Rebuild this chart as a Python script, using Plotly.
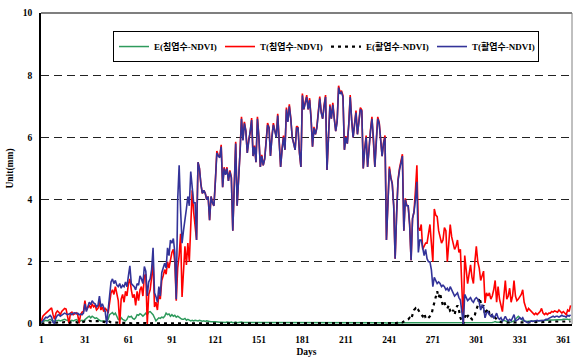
import plotly.graph_objects as go

days = list(range(1, 367))
x_ticks = [1, 31, 61, 91, 121, 151, 181, 211, 241, 271, 301, 331, 361]

t_broad = [
    0.05, 0.12, 0.18, 0.22, 0.20, 0.25, 0.28, 0.22, 0.05, 0.02, 0.20, 0.28, 0.30, 0.25, 0.30, 0.32, 0.35, 0.33, 0.30, 0.32, 0.34, 0.30, 0.35, 0.36, 0.33, 0.35, 0.30, 0.32, 0.30, 0.35,
    0.65, 0.40, 0.60, 0.70, 0.62, 0.75, 0.68, 0.65, 0.55, 0.60, 0.90, 0.55, 0.65, 0.50, 0.40, 0.00, 0.55, 0.90, 1.35, 1.45, 1.30, 1.40, 1.25, 1.20, 1.30, 1.15, 1.25, 1.20, 1.35, 1.20,
    1.55, 1.87, 1.30, 1.25, 1.20, 1.10, 1.30, 1.25, 1.55, 1.45, 1.30, 1.85, 1.70, 0.90, 1.35, 1.45, 1.75, 2.45, 1.00, 0.88, 0.70, 1.20, 0.90, 1.65, 1.80, 1.95, 1.80, 2.45, 2.20, 2.70,
    2.60, 2.75, 2.30, 0.80, 4.00, 5.10, 3.67, 2.60, 3.00, 3.30, 3.70, 4.10, 3.80, 4.90, 4.50, 3.90, 3.90, 2.70, 5.20, 5.00, 4.50, 4.20, 4.30, 4.20, 4.00, 4.10, 3.34, 4.10, 3.90, 3.80,
    4.60, 5.50, 5.40, 5.35, 5.70, 4.40, 5.00, 4.80, 5.00, 4.60, 4.90, 4.70, 3.00, 4.50, 5.80, 3.80, 4.50, 5.50, 6.60, 5.90, 6.45, 6.20, 5.50, 5.90, 6.10, 6.56, 5.40, 5.70, 5.20, 6.60,
    6.00, 5.05, 5.40, 5.10, 5.30, 5.90, 6.40, 6.30, 5.40, 6.00, 6.40, 6.20, 6.00, 6.70, 5.80, 5.05, 5.60, 6.00, 5.60, 6.90, 6.50, 7.00, 6.60, 6.00, 5.80, 5.60, 6.30, 6.30, 5.50, 5.05,
    7.35, 6.90, 7.10, 7.30, 6.90, 7.20, 6.60, 5.70, 6.30, 6.10, 6.30, 6.70, 7.25, 6.80, 6.60, 7.00, 7.30, 4.95, 6.20, 7.00, 6.60, 7.05, 6.60, 6.20, 6.50, 7.60, 7.40, 7.45, 7.30, 5.60,
    6.00, 5.80, 6.40, 7.30, 6.55, 6.00, 6.40, 6.80, 6.10, 6.50, 6.90, 6.85, 5.00, 5.60, 6.00, 5.05, 5.80, 6.20, 6.60, 6.00, 5.05, 5.90, 6.60, 6.45, 6.00, 5.40, 5.80, 6.00, 2.70, 4.00,
    5.00, 4.70, 4.50, 3.80, 2.10, 3.50, 4.60, 4.95, 5.20, 5.40, 3.00, 4.00, 3.80, 3.80, 3.20, 2.05, 3.40, 3.60, 4.00, 4.57, 2.30, 2.70, 2.70, 2.40, 2.20, 2.40, 2.10, 2.00, 2.00, 1.74,
    1.20, 1.50, 1.40, 1.30, 1.35, 1.30, 1.20, 1.25, 1.20, 1.10, 1.15, 1.05, 1.20, 1.10, 1.00, 0.90, 0.95, 1.00, 0.85, 0.77, 0.40, 0.00, 0.95, 0.85, 0.75, 0.80, 0.85, 0.75, 0.70, 0.80,
    0.85, 0.80, 0.70, 0.45, 0.60, 0.55, 0.20, 0.35, 0.40, 0.30, 0.25, 0.30, 0.20, 0.25, 0.35, 0.20, 0.15, 0.20, 0.10, 0.15, 0.25, 0.15, 0.10, 0.15, 0.10, 0.20, 0.30, 0.10, 0.12, 0.15,
    0.20, 0.15, 0.20, 0.10, 0.08, 0.05, 0.05, 0.08, 0.10, 0.08, 0.10, 0.10, 0.12, 0.10, 0.10, 0.12, 0.10, 0.12, 0.15, 0.15, 0.18, 0.20, 0.22, 0.25, 0.22, 0.25, 0.25, 0.22, 0.25, 0.28, 0.25, 0.25, 0.22, 0.28, 0.25, 0.30,
]

t_conifer = [
    0.10, 0.25, 0.30, 0.35, 0.40, 0.45, 0.50, 0.52, 0.30, 0.15, 0.35, 0.42, 0.38, 0.30, 0.40, 0.45, 0.50, 0.48, 0.20, 0.02, 0.35, 0.38, 0.30, 0.33, 0.36, 0.30, 0.02, 0.30, 0.38, 0.40,
    0.75, 0.45, 0.55, 0.60, 0.50, 0.65, 0.55, 0.60, 0.45, 0.50, 0.70, 0.45, 0.55, 0.40, 0.50, 0.45, 0.35, 0.70, 1.00, 1.10, 0.95, 1.20, 0.90, 0.75, 0.00, 0.80, 0.95, 0.70, 1.05, 0.90,
    1.30, 1.45, 1.10, 0.85, 0.95, 0.60, 1.05, 0.75, 1.10, 1.20, 0.90, 1.55, 1.60, 0.00, 0.95, 1.10, 1.50, 2.00, 0.55, 0.70, 0.45, 0.95, 0.80, 1.40, 1.55, 1.75, 1.60, 2.00, 1.80, 2.10,
    2.30, 2.40, 2.00, 0.75, 1.80, 2.20, 2.90, 0.87, 1.70, 2.50, 1.90, 2.60, 2.00, 3.10, 4.30, 3.60, 3.20, 2.70, 5.20, 5.00, 4.50, 4.20, 4.30, 4.20, 4.00, 4.10, 3.34, 4.10, 3.90, 3.80,
    4.62, 5.56, 5.42, 5.37, 5.76, 4.40, 5.04, 4.82, 5.04, 4.60, 4.94, 4.72, 3.00, 4.52, 5.86, 3.80, 4.52, 5.54, 6.66, 5.92, 6.50, 6.22, 5.50, 5.94, 6.14, 6.62, 5.40, 5.74, 5.20, 6.66,
    6.02, 5.05, 5.44, 5.10, 5.32, 5.94, 6.46, 6.32, 5.40, 6.04, 6.46, 6.22, 6.02, 6.76, 5.82, 5.05, 5.64, 6.06, 5.60, 6.96, 6.52, 7.06, 6.62, 6.00, 5.82, 5.60, 6.36, 6.32, 5.50, 5.05,
    7.41, 6.90, 7.14, 7.36, 6.90, 7.26, 6.62, 5.70, 6.34, 6.10, 6.34, 6.74, 7.31, 6.82, 6.60, 7.04, 7.36, 4.95, 6.24, 7.06, 6.60, 7.11, 6.62, 6.20, 6.54, 7.66, 7.44, 7.50, 7.34, 5.60,
    6.04, 5.80, 6.44, 7.36, 6.57, 6.00, 6.44, 6.86, 6.10, 6.54, 6.96, 6.88, 5.00, 5.64, 6.06, 5.05, 5.84, 6.24, 6.66, 6.00, 5.05, 5.94, 6.66, 6.48, 6.02, 5.40, 5.84, 6.06, 2.70, 4.02,
    5.06, 4.72, 4.52, 3.80, 2.10, 3.54, 4.64, 5.00, 5.26, 5.46, 3.00, 4.04, 3.82, 3.80, 3.20, 2.05, 3.40, 3.60, 4.30, 5.10, 3.10, 3.00, 3.20, 2.40, 2.50, 2.60, 2.60, 2.90, 3.20, 2.60,
    2.00, 3.70, 3.50, 3.45, 3.00, 2.80, 2.60, 2.70, 3.10, 3.00, 2.00, 2.60, 3.20, 2.80, 2.60, 2.40, 2.50, 2.70, 2.30, 2.40, 1.20, 0.00, 2.20, 1.80, 1.30, 1.60, 1.90, 1.50, 1.30, 2.00,
    2.50, 2.00, 1.80, 1.40, 1.60, 1.70, 0.68, 1.00, 0.90, 1.00, 0.80, 0.90, 1.10, 1.40, 0.70, 1.20, 0.80, 0.60, 0.40, 0.90, 1.40, 0.80, 0.90, 1.15, 0.70, 0.90, 1.40, 0.90, 0.75, 0.80,
    0.87, 0.95, 1.10, 0.70, 0.55, 0.40, 0.50, 0.45, 0.40, 0.35, 0.30, 0.35, 0.30, 0.35, 0.40, 0.50, 0.35, 0.30, 0.35, 0.30, 0.35, 0.35, 0.40, 0.38, 0.42, 0.40, 0.38, 0.45, 0.40, 0.35, 0.40, 0.35, 0.30, 0.45, 0.40, 0.60,
]

e_conifer = [
    0.05, 0.08, 0.10, 0.12, 0.10, 0.12, 0.15, 0.12, 0.10, 0.08, 0.10, 0.12, 0.12, 0.10, 0.12, 0.14, 0.15, 0.13, 0.12, 0.08, 0.10, 0.12, 0.10, 0.12, 0.14, 0.12, 0.08, 0.10, 0.12, 0.10,
    0.15, 0.20, 0.22, 0.25, 0.20, 0.25, 0.22, 0.18, 0.20, 0.15, 0.12, 0.10, 0.10, 0.12, 0.10, 0.08, 0.15, 0.30, 0.35, 0.37, 0.30, 0.35, 0.25, 0.15, 0.13, 0.20, 0.15, 0.12, 0.10, 0.15,
    0.25, 0.22, 0.25, 0.18, 0.15, 0.20, 0.30, 0.28, 0.33, 0.30, 0.25, 0.30, 0.35, 0.30, 0.38, 0.40, 0.35, 0.30, 0.20, 0.10, 0.15, 0.20, 0.18, 0.22, 0.20, 0.25, 0.35, 0.30, 0.32, 0.25,
    0.30, 0.25, 0.28, 0.22, 0.25, 0.20, 0.18, 0.15, 0.15, 0.18, 0.12, 0.15, 0.12, 0.10, 0.12, 0.10, 0.12, 0.10, 0.10, 0.12, 0.10, 0.09, 0.10, 0.08, 0.10, 0.08, 0.08, 0.07, 0.08, 0.07,
    0.07, 0.06, 0.07, 0.06, 0.06, 0.05, 0.06, 0.05, 0.06, 0.05, 0.05, 0.06, 0.04, 0.05, 0.06, 0.04, 0.05, 0.05, 0.06, 0.05, 0.05, 0.06, 0.05, 0.05, 0.05, 0.06, 0.05, 0.05, 0.04, 0.05,
    0.05, 0.04, 0.05, 0.05, 0.04, 0.05, 0.05, 0.05, 0.04, 0.05, 0.05, 0.05, 0.04, 0.05, 0.05, 0.04, 0.05, 0.05, 0.04, 0.05, 0.05, 0.05, 0.05, 0.04, 0.05, 0.04, 0.05, 0.05, 0.04, 0.04,
    0.05, 0.05, 0.05, 0.05, 0.04, 0.05, 0.05, 0.04, 0.05, 0.05, 0.05, 0.05, 0.05, 0.04, 0.05, 0.05, 0.05, 0.04, 0.05, 0.05, 0.05, 0.05, 0.04, 0.05, 0.05, 0.05, 0.05, 0.05, 0.05, 0.04,
    0.05, 0.04, 0.05, 0.05, 0.05, 0.04, 0.05, 0.05, 0.05, 0.05, 0.05, 0.05, 0.04, 0.04, 0.05, 0.04, 0.04, 0.05, 0.05, 0.04, 0.04, 0.04, 0.05, 0.04, 0.04, 0.04, 0.04, 0.04, 0.03, 0.04,
    0.04, 0.04, 0.04, 0.03, 0.03, 0.03, 0.04, 0.04, 0.04, 0.04, 0.03, 0.03, 0.03, 0.03, 0.03, 0.03, 0.03, 0.03, 0.03, 0.03, 0.03, 0.03, 0.03, 0.03, 0.03, 0.03, 0.03, 0.03, 0.03, 0.03,
    0.03, 0.03, 0.03, 0.03, 0.03, 0.03, 0.03, 0.03, 0.03, 0.03, 0.03, 0.03, 0.03, 0.03, 0.03, 0.03, 0.03, 0.03, 0.03, 0.03, 0.03, 0.03, 0.03, 0.03, 0.03, 0.03, 0.03, 0.03, 0.03, 0.03,
    0.03, 0.03, 0.03, 0.03, 0.03, 0.03, 0.03, 0.03, 0.03, 0.04, 0.04, 0.05, 0.06, 0.08, 0.06, 0.05, 0.06, 0.08, 0.10, 0.12, 0.10, 0.08, 0.06, 0.05, 0.06, 0.08, 0.10, 0.15, 0.22, 0.25,
    0.20, 0.15, 0.12, 0.10, 0.08, 0.08, 0.09, 0.10, 0.09, 0.10, 0.10, 0.10, 0.11, 0.10, 0.11, 0.12, 0.11, 0.12, 0.12, 0.12, 0.13, 0.12, 0.13, 0.13, 0.14, 0.13, 0.14, 0.14, 0.13, 0.14, 0.15, 0.14, 0.15, 0.15, 0.14, 0.16,
]

e_broad = [
    0.01, 0.02, 0.03, 0.03, 0.04, 0.04, 0.05, 0.04, 0.03, 0.02, 0.04, 0.05, 0.05, 0.04, 0.05, 0.05, 0.06, 0.05, 0.04, 0.02, 0.05, 0.06, 0.05, 0.06, 0.06, 0.05, 0.03, 0.05, 0.06, 0.06,
    0.08, 0.06, 0.08, 0.10, 0.09, 0.10, 0.10, 0.09, 0.08, 0.09, 0.10, 0.08, 0.08, 0.07, 0.06, 0.02, 0.06, 0.08, 0.05, 0.05, 0.04, 0.05, 0.04, 0.04, 0.03, 0.04, 0.04, 0.03, 0.04, 0.03,
    0.03, 0.03, 0.02, 0.03, 0.02, 0.03, 0.03, 0.02, 0.03, 0.03, 0.02, 0.03, 0.03, 0.01, 0.02, 0.03, 0.03, 0.03, 0.02, 0.02, 0.02, 0.03, 0.02, 0.03, 0.03, 0.03, 0.03, 0.03, 0.03, 0.03,
    0.03, 0.03, 0.03, 0.01, 0.03, 0.03, 0.03, 0.02, 0.03, 0.03, 0.03, 0.03, 0.03, 0.03, 0.03, 0.03, 0.03, 0.02, 0.03, 0.03, 0.03, 0.03, 0.03, 0.03, 0.03, 0.03, 0.02, 0.03, 0.03, 0.03,
    0.03, 0.03, 0.03, 0.03, 0.03, 0.02, 0.03, 0.03, 0.03, 0.03, 0.03, 0.03, 0.02, 0.03, 0.03, 0.02, 0.03, 0.03, 0.03, 0.03, 0.03, 0.03, 0.03, 0.03, 0.03, 0.03, 0.03, 0.03, 0.03, 0.03,
    0.03, 0.03, 0.03, 0.03, 0.03, 0.03, 0.03, 0.03, 0.03, 0.03, 0.03, 0.03, 0.03, 0.03, 0.03, 0.03, 0.03, 0.03, 0.03, 0.03, 0.03, 0.03, 0.03, 0.03, 0.03, 0.03, 0.03, 0.03, 0.03, 0.03,
    0.03, 0.03, 0.03, 0.03, 0.03, 0.03, 0.03, 0.03, 0.03, 0.03, 0.03, 0.03, 0.03, 0.03, 0.03, 0.03, 0.03, 0.02, 0.03, 0.03, 0.03, 0.03, 0.03, 0.03, 0.03, 0.03, 0.03, 0.03, 0.03, 0.02,
    0.03, 0.03, 0.03, 0.03, 0.03, 0.03, 0.03, 0.03, 0.03, 0.03, 0.03, 0.03, 0.02, 0.03, 0.03, 0.02, 0.03, 0.03, 0.03, 0.03, 0.02, 0.03, 0.03, 0.03, 0.03, 0.03, 0.03, 0.03, 0.02, 0.02,
    0.02, 0.03, 0.02, 0.03, 0.02, 0.03, 0.05, 0.04, 0.06, 0.05, 0.08, 0.10, 0.12, 0.15, 0.20, 0.15, 0.30, 0.45, 0.50, 0.40, 0.45, 0.35, 0.30, 0.25, 0.35, 0.20, 0.15, 0.20, 0.25, 0.30,
    0.50, 0.70, 0.90, 1.05, 0.85, 1.00, 0.75, 0.60, 0.70, 0.55, 0.50, 0.60, 0.40, 0.35, 0.45, 0.30, 0.50, 0.60, 0.45, 0.20, 0.10, 0.00, 0.20, 0.35, 0.25, 0.30, 0.20, 0.15, 0.25, 0.30,
    0.45, 0.60, 0.85, 0.70, 0.55, 0.60, 0.30, 0.40, 0.50, 0.35, 0.40, 0.25, 0.30, 0.20, 0.15, 0.10, 0.08, 0.06, 0.05, 0.05, 0.05, 0.04, 0.05, 0.06, 0.05, 0.06, 0.05, 0.04, 0.05, 0.06,
    0.05, 0.06, 0.05, 0.06, 0.07, 0.06, 0.05, 0.06, 0.07, 0.06, 0.07, 0.06, 0.07, 0.08, 0.07, 0.06, 0.07, 0.08, 0.07, 0.08, 0.07, 0.08, 0.07, 0.08, 0.08, 0.07, 0.08, 0.08, 0.07, 0.08, 0.08, 0.07, 0.08, 0.08, 0.07, 0.08,
]

FONT = "Liberation Serif, Noto Sans CJK KR, serif"

fig = go.Figure()
fig.add_trace(go.Scatter(x=days, y=e_conifer, mode="lines", name="E(침엽수-NDVI)",
                         line=dict(color="#2E9A5C", width=1.5)))
fig.add_trace(go.Scatter(x=days, y=t_conifer, mode="lines", name="T(침엽수-NDVI)",
                         line=dict(color="#FF0000", width=1.6)))
fig.add_trace(go.Scatter(x=days, y=e_broad, mode="lines", name="E(활엽수-NDVI)",
                         line=dict(color="#000000", width=2.2, dash="3px,4px")))
fig.add_trace(go.Scatter(x=days, y=t_broad, mode="lines", name="T(활엽수-NDVI)",
                         line=dict(color="#333399", width=1.6)))

fig.update_layout(
    width=573, height=360,
    margin=dict(l=41, r=1, t=13, b=36),
    paper_bgcolor="white", plot_bgcolor="white",
    showlegend=True,
    legend=dict(orientation="h", x=0.1356, y=0.942, xanchor="left", yanchor="top",
                bordercolor="black", borderwidth=1, bgcolor="white",
                font=dict(family=FONT, size=9, color="black", weight="bold"),
                entrywidth=61, entrywidthmode="pixels", itemwidth=30),
    shapes=[
        dict(type="line", xref="paper", yref="paper", x0=0, x1=1, y0=1, y1=1,
             line=dict(color="black", width=1.2)),
        dict(type="line", xref="paper", yref="paper", x0=1, x1=1, y0=0, y1=1,
             line=dict(color="#808080", width=1)),
    ],
)

fig.update_xaxes(range=[0.7, 367], tickmode="array", tickvals=x_ticks,
                 ticktext=[str(v) for v in x_ticks],
                 showgrid=False, zeroline=False, showline=True, linecolor="black", linewidth=1.5,
                 ticks="", ticklabelstandoff=6,
                 tickfont=dict(family=FONT, size=9.5, color="black", weight="bold"),
                 title=dict(text="Days", font=dict(family=FONT, size=9.5, color="black", weight="bold"),
                            standoff=4))
fig.update_yaxes(range=[0, 10], tickmode="linear", tick0=0, dtick=2,
                 showgrid=True, gridcolor="#222222", gridwidth=1, griddash="8px,5px",
                 zeroline=False, showline=True, linecolor="black", linewidth=1.5,
                 ticks="", ticklabelstandoff=5,
                 tickfont=dict(family=FONT, size=9.5, color="black", weight="bold"),
                 title=dict(text="Unit(mm)", font=dict(family=FONT, size=9.5, color="black", weight="bold"),
                            standoff=8))

fig.write_html("out.html")
